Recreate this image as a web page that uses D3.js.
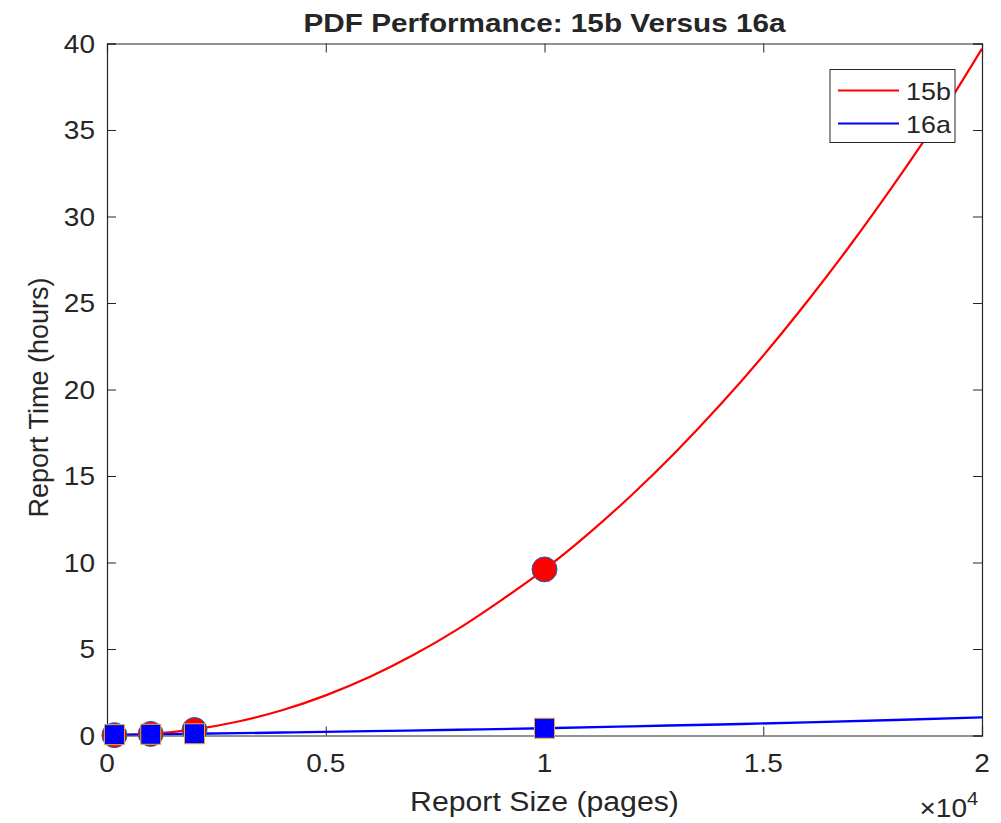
<!DOCTYPE html>
<html>
<head>
<meta charset="utf-8">
<script src="https://cdn.jsdelivr.net/npm/d3@7"></script>
<style>
  html, body { margin: 0; padding: 0; background: #fff; }
  svg { display: block; }
  text { font-family: "Liberation Sans", Arial, Helvetica, sans-serif; fill: #262626; }
</style>
</head>
<body>
<svg id="chart" width="1001" height="823"></svg>
<script>
// ---- data ----
const seriesNames = ["15b", "16a"];
const curveX15b = [0, 1000, 2000, 3000, 4000, 5000, 6000, 7000, 8000, 9000, 10000, 11000, 12000, 13000, 14000, 15000, 16000, 17000, 18000, 19000, 20000];
const curveY15b = [0, 0.09, 0.35, 0.81, 1.46, 2.32, 3.38, 4.65, 6.12, 7.8, 9.6, 11.65, 13.92, 16.39, 19.07, 21.96, 25.07, 28.38, 31.9, 35.63, 39.7];
const curveX16a = [0, 1000, 2000, 4000, 6000, 8000, 10000, 12000, 14000, 16000, 18000, 20000];
const curveY16a = [0.03, 0.06, 0.1, 0.17, 0.25, 0.33, 0.42, 0.53, 0.64, 0.76, 0.9, 1.05];
const pointsX15b = [170, 1000, 2000, 10000];
const pointsY15b = [0.02, 0.09, 0.32, 9.6];
const pointsX16a = [170, 1000, 2000, 10000];
const pointsY16a = [0.05, 0.07, 0.1, 0.42];
const xTicks = [0, 5000, 10000, 15000, 20000];
const xTickLabels = ["0", "0.5", "1", "1.5", "2"];
const yTicks = [0, 5, 10, 15, 20, 25, 30, 35, 40];
const titleText = "PDF Performance: 15b Versus 16a";
const xLabelText = "Report Size (pages)";
const yLabelText = "Report Time (hours)";

// ---- layout ----
const L = 107, R = 982, T = 43.5, B = 735.5;
const SX = 1.12;          // horizontal stretch of text seen in the reference
const axisColor = "#262626";
const tickLen = 9;

const svg = d3.select("#chart");
const x = d3.scaleLinear().domain([0, 20000]).range([L, R]);
const y = d3.scaleLinear().domain([0, 40]).range([B, T]);

function stretchedText(g, tx, ty, str, size, anchor, weight, sx) {
  return g.append("text")
    .attr("transform", `translate(${tx},${ty}) scale(${sx || SX},1)`)
    .attr("text-anchor", anchor)
    .style("font-size", size + "px")
    .style("font-weight", weight || "normal")
    .text(str);
}

// background
svg.append("rect").attr("width", 1001).attr("height", 823).attr("fill", "#fff");

// ---- lines ----
svg.append("clipPath").attr("id", "plotclip")
  .append("rect").attr("x", L).attr("y", T).attr("width", R - L).attr("height", B - T);
const plotG = svg.append("g").attr("clip-path", "url(#plotclip)");
const line = d3.line().x(d => x(d[0])).y(d => y(d[1])).curve(d3.curveNatural);
const data15b = curveX15b.map((v, i) => [v, curveY15b[i]]);
const data16a = curveX16a.map((v, i) => [v, curveY16a[i]]);
plotG.append("path").datum(data15b).attr("d", line)
  .attr("fill", "none").attr("stroke", "#ff0000").attr("stroke-width", 2.2);
plotG.append("path").datum(data16a).attr("d", line.curve(d3.curveMonotoneX))
  .attr("fill", "none").attr("stroke", "#0000ff").attr("stroke-width", 2.4);

// axes box (ticks inside, mirrored)
const axG = svg.append("g");
const xAxisB = d3.axisBottom(x).tickValues(xTicks).tickSize(-tickLen).tickFormat("");
const xAxisT = d3.axisTop(x).tickValues(xTicks).tickSize(-tickLen).tickFormat("");
const yAxisL = d3.axisLeft(y).tickValues(yTicks).tickSize(-tickLen).tickFormat("");
const yAxisR = d3.axisRight(y).tickValues(yTicks).tickSize(-tickLen).tickFormat("");
[
  [xAxisB, `translate(0,${B})`],
  [xAxisT, `translate(0,${T})`],
  [yAxisL, `translate(${L},0)`],
  [yAxisR, `translate(${R},0)`]
].forEach(([ax, tr]) => {
  const g = axG.append("g").attr("transform", tr).call(ax);
  g.selectAll("path.domain").attr("stroke", axisColor).attr("stroke-width", 1.2);
  g.selectAll(".tick line").attr("stroke", axisColor).attr("stroke-width", 1);
});

// tick labels
const tl = svg.append("g");
xTicks.forEach((v, i) => stretchedText(tl, x(v), 772, xTickLabels[i], 25, "middle"));
yTicks.forEach(v => stretchedText(tl, 95, y(v) + 9, String(v), 25, "end"));

// exponent label
tl.append("text")
  .attr("transform", `translate(967,817) scale(${SX},1)`)
  .attr("text-anchor", "end")
  .style("font-size", "25px")
  .text("\u00d710");
tl.append("text")
  .attr("transform", `translate(967,805) scale(${SX},1)`)
  .attr("text-anchor", "start")
  .style("font-size", "18px")
  .text("4");

// axis labels + title
stretchedText(svg, (L + R) / 2, 811, xLabelText, 27, "middle");
svg.append("text")
  .attr("transform", `translate(48,${(T + B) / 2 + 8}) rotate(-90)`)
  .attr("text-anchor", "middle")
  .style("font-size", "27px")
  .text(yLabelText);
stretchedText(svg, (L + R) / 2, 31.5, titleText, 25.5, "middle", "bold", 1.165);

// ---- markers ----
const mG = svg.append("g");
mG.selectAll("circle.p15b").data(pointsX15b.map((v, i) => [v, pointsY15b[i]]))
  .join("circle").attr("class", "p15b")
  .attr("cx", d => x(d[0])).attr("cy", d => y(d[1])).attr("r", 12.5)
  .attr("fill", "#ff0000").attr("stroke", "#0072BD").attr("stroke-width", 1);
const sq = 20;
mG.selectAll("rect.p16a").data(pointsX16a.map((v, i) => [v, pointsY16a[i]]))
  .join("rect").attr("class", "p16a")
  .attr("x", d => x(d[0]) - sq / 2).attr("y", d => y(d[1]) - sq / 2)
  .attr("width", sq).attr("height", sq)
  .attr("fill", "#0000ff").attr("stroke", "#EDB120").attr("stroke-width", 1);

// ---- legend ----
const lg = svg.append("g");
lg.append("rect").attr("x", 830).attr("y", 69.5).attr("width", 125).attr("height", 73)
  .attr("fill", "#fff").attr("stroke", axisColor).attr("stroke-width", 1);
const legendColors = ["#ff0000", "#0000ff"];
seriesNames.forEach((name, i) => {
  const yy = 90.5 + i * 33;
  lg.append("line").attr("x1", 838).attr("x2", 899).attr("y1", yy).attr("y2", yy)
    .attr("stroke", legendColors[i]).attr("stroke-width", 2.2);
  stretchedText(lg, 906, yy + 9, name, 24, "start");
});
</script>
</body>
</html>
